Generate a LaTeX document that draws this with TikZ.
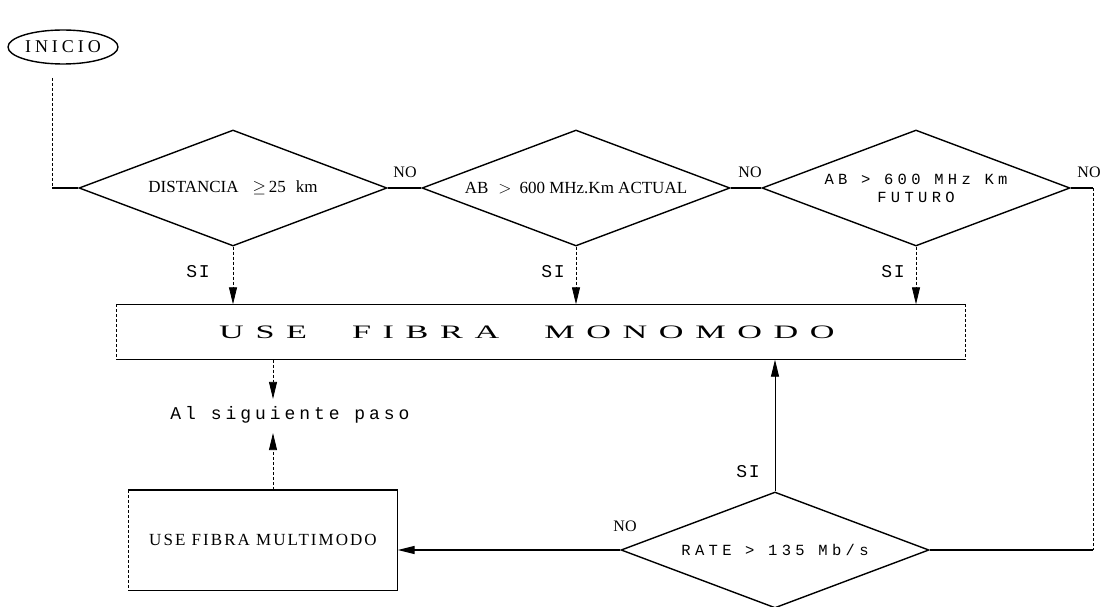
\documentclass[tikz,border=0pt]{standalone}
\usepackage{fontspec}
\setmainfont{Liberation Serif}
\newfontfamily\monof[LetterSpace=28]{Liberation Mono}
\newfontfamily\nextf[LetterSpace=22]{Liberation Mono}
\newfontfamily\sif[LetterSpace=10]{Liberation Mono}
\newfontfamily\spserif[LetterSpace=12]{Liberation Serif}
\newfontfamily\startf[LetterSpace=22]{Liberation Serif}
\newfontfamily\widef[LetterSpace=34]{Liberation Serif}
\usetikzlibrary{shapes.geometric,arrows.meta}
\begin{document}
\begin{tikzpicture}[x=1pt,y=-1pt,
  line width=1.4pt,
  dec/.style={diamond,draw,aspect=2.67,minimum width=308pt,minimum height=116pt,inner sep=0pt,font=\fontsize{17}{19}\selectfont,align=center},
  lbl/.style={font=\fontsize{16}{18}\selectfont,inner sep=0pt},
  silbl/.style={font=\fontsize{18}{20}\sif,inner sep=0pt},
  thin dash/.style={line width=0.8pt,densely dashed},
  arr/.style={-{Triangle[length=17pt,width=8pt]}}
]
\useasboundingbox (0,0) rectangle (1101,607);

% start
\node[ellipse,draw,minimum width=110pt,minimum height=34pt,inner sep=0pt,font=\fontsize{18}{20}\startf] (start) at (63,47) {INICIO};

% decisions
\node[dec] (d1) at (233,188) {DISTANCIA\hspace{14pt}$\geq$\,25\hspace{10pt}km};
\node[dec] (d2) at (576,188) {AB\hspace{10pt}$>$\hspace{8pt}600 MHz.Km ACTUAL};
\node[dec,font=\fontsize{15.5}{18}\monof] (d3) at (916,188) {AB > 600 MHz Km\\FUTURO};
\node[dec,font=\fontsize{15.5}{18}\monof] (d4) at (775,550) {RATE > 135 Mb/s};

% boxes
\node[minimum width=848pt,minimum height=54pt,inner sep=0pt] (mono) at (541,332) {};
\node[inner sep=0pt] (monot) at (527,332)
  {\scalebox{1.8}[1]{\fontsize{19}{21}\widef USE\hspace{25pt}FIBRA\hspace{25pt}MONOMODO}};
\draw (mono.north west) -- (mono.north east);
\draw (mono.south west) -- (mono.south east);
\draw[thin dash] (mono.north west) -- (mono.south west);
\draw[thin dash] (mono.north east) -- (mono.south east);

\node[minimum width=268pt,minimum height=99pt,inner sep=0pt,font=\fontsize{17}{19}\spserif] (multi) at (263,540) {USE FIBRA MULTIMODO};
\draw (multi.north west) -- (multi.north east) -- (multi.south east) -- (multi.south west);
\draw[thin dash] (multi.north west) -- (multi.south west);

\node[inner sep=0pt,font=\fontsize{18}{20}\nextf] (next) at (290,415) {Al siguiente paso};

% helper coordinates
\coordinate (l0) at (52,78);
\coordinate (l1) at (52,188);
\coordinate (r0) at (1093,188);
\coordinate (m1) at (273,0);

% connectors
\draw[thin dash] (l0) -- (l1);
\draw (l1) -- (d1.west);
\draw (d1.east) -- (d2.west);
\draw (d2.east) -- (d3.west);
\draw (d3.east) -- (r0);
\draw[thin dash] (r0) -- (r0 |- d4.east);
\draw (r0 |- d4.east) -- (d4.east);

\draw[thin dash,arr] (d1.south) -- (d1.south |- mono.north);
\draw[thin dash,arr] (d2.south) -- (d2.south |- mono.north);
\draw[thin dash,arr] (d3.south) -- (d3.south |- mono.north);

\draw[line width=0.9pt,arr] (d4.north) -- (d4.north |- mono.south);
\draw[arr] (d4.west) -- (d4.west -| multi.east);

\draw[thin dash,arr] (m1 |- mono.south) -- ([yshift=7pt]m1 |- next.north);
\draw[thin dash,arr] (m1 |- multi.north) -- ([yshift=-9pt]m1 |- next.south);

% labels
\node[lbl] (no1) at (405,172) {NO};
\node[lbl] (no2) at (750,172) {NO};
\node[lbl] (no3) at (1089,172) {NO};
\node[silbl] (si1) at (198,272) {SI};
\node[silbl] (si2) at (553,272) {SI};
\node[silbl] (si3) at (893,272) {SI};
\node[silbl] (si4) at (748,472) {SI};
\node[lbl] (no4) at (625,526) {NO};
\end{tikzpicture}
\end{document}
